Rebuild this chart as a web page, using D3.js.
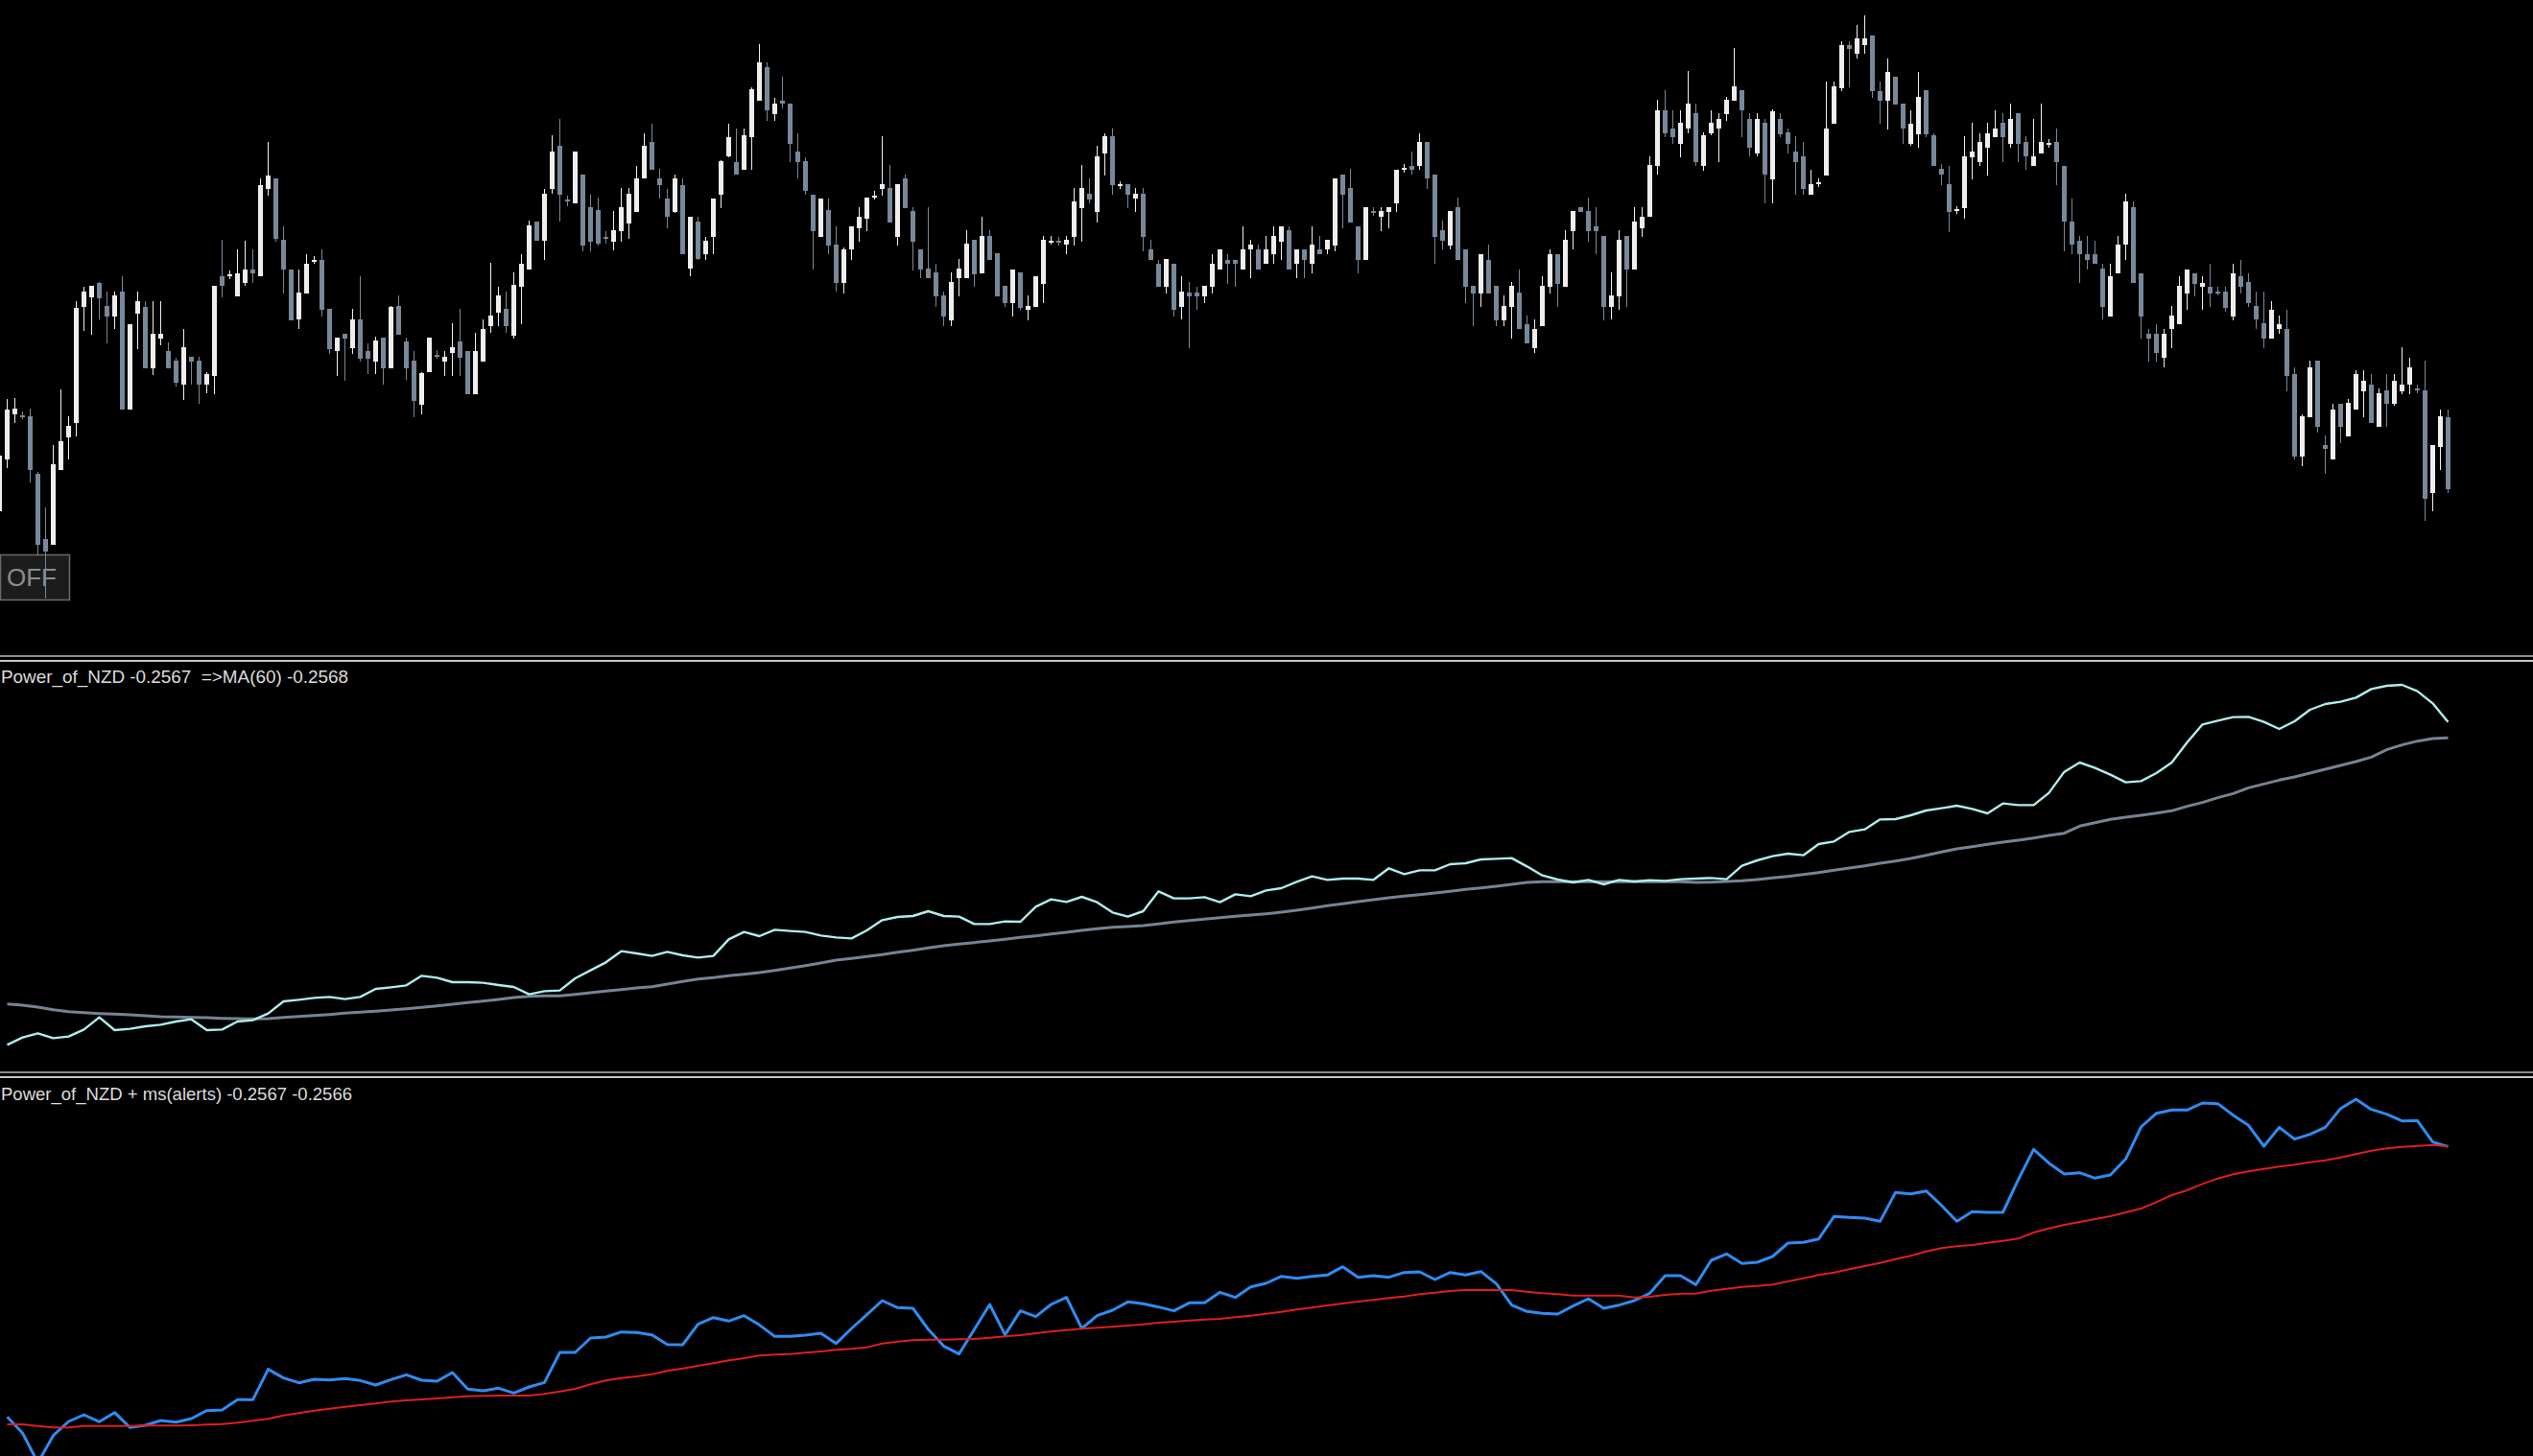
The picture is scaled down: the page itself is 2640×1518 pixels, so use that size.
<!DOCTYPE html>
<html><head><meta charset="utf-8">
<script src="https://cdn.jsdelivr.net/npm/d3@7/dist/d3.min.js"></script>
<style>html,body{margin:0;padding:0;background:#000;overflow:hidden}</style>
</head><body>
<svg id="chart" width="2640" height="1518"></svg>
<script>
// ---------- DATA ----------
// candle prices, in points
const candleOpen = [
770,895,1005,1002,1000,862,703,690,870,948,
982,1262,1285,1320,1265,1240,1298,1015,1245,1262,
1115,1185,1157,1132,1075,1142,1132,1075,1095,1337,
1338,1287,1320,1352,1335,1545,1570,1423,1352,1232,
1295,1372,1375,1258,1155,1197,1162,1232,1155,1130,
1188,1115,1265,1178,1132,1028,1105,1147,1130,1152,
1178,1155,1052,1130,1215,1248,1258,1192,1310,1352,
1468,1422,1545,1650,1520,1512,1580,1502,1495,1430,
1420,1445,1462,1490,1570,1658,1570,1522,1490,1555,
1355,1467,1388,1430,1532,1625,1610,1592,1670,1758,
1838,1725,1758,1750,1635,1612,1532,1430,1495,1412,
1320,1400,1452,1475,1528,1545,1547,1430,1572,1493,
1400,1355,1345,1290,1230,1332,1332,1423,1342,1433,
1392,1312,1272,1345,1255,1262,1317,1420,1422,1412,
1430,1500,1535,1490,1632,1673,1555,1557,1522,1535,
1400,1367,1310,1367,1262,1297,1297,1287,1310,1352,
1375,1375,1352,1400,1400,1367,1390,1420,1447,1367,
1400,1367,1400,1400,1410,1580,1547,1455,1375,1492,
1478,1490,1512,1595,1602,1600,1658,1580,1447,1410,
1502,1400,1312,1295,1375,1312,1230,1262,1297,1220,
1162,1217,1310,1390,1310,1445,1502,1492,1455,1433,
1262,1287,1433,1352,1452,1478,1602,1735,1690,1655,
1690,1728,1600,1680,1690,1725,1757,1783,1713,1630,
1705,1568,1713,1682,1635,1625,1532,1560,1578,1703,
1788,1892,1870,1892,1915,1782,1757,1815,1750,1655,
1678,1783,1675,1595,1557,1495,1500,1622,1610,1645,
1670,1705,1655,1728,1658,1600,1632,1655,1658,1602,
1468,1422,1390,1390,1355,1240,1342,1412,1502,1343,
1197,1197,1140,1210,1220,1295,1342,1310,1310,1300,
1298,1240,1335,1322,1265,1222,1185,1210,1210,1100,
902,997,1132,930,895,1030,950,1015,1060,1075,
975,1062,1030,1060,1075,1065,1062,815,925,997];
const candleHigh = [
910,1040,1042,1010,1017,865,780,930,1063,1000,
1275,1310,1314,1322,1298,1300,1335,1220,1300,1275,
1275,1275,1177,1140,1210,1142,1142,1105,1312,1423,
1350,1400,1422,1400,1570,1658,1570,1455,1352,1352,
1390,1385,1400,1258,1188,1197,1258,1337,1175,1190,
1188,1265,1290,1188,1155,1105,1188,1158,1155,1222,
1258,1155,1200,1232,1368,1310,1300,1345,1390,1470,
1468,1545,1675,1713,1530,1635,1580,1533,1525,1445,
1492,1547,1547,1602,1680,1703,1595,1545,1580,1570,
1478,1478,1430,1522,1615,1702,1690,1690,1790,1893,
1850,1765,1815,1750,1680,1622,1532,1522,1522,1455,
1405,1455,1502,1525,1540,1673,1603,1557,1580,1503,
1400,1503,1367,1300,1345,1378,1447,1423,1480,1447,
1392,1312,1353,1345,1290,1337,1433,1432,1430,1433,
1547,1603,1570,1650,1680,1690,1565,1557,1547,1547,
1423,1375,1377,1367,1335,1322,1310,1312,1390,1400,
1390,1375,1455,1423,1413,1433,1455,1455,1455,1400,
1400,1455,1433,1423,1570,1580,1595,1455,1502,1502,
1502,1502,1592,1605,1635,1680,1658,1580,1470,1492,
1525,1400,1312,1390,1413,1312,1290,1322,1353,1242,
1232,1335,1400,1390,1447,1492,1502,1525,1502,1433,
1345,1447,1433,1502,1502,1625,1760,1783,1735,1735,
1830,1750,1682,1735,1728,1768,1885,1783,1728,1728,
1713,1738,1728,1690,1673,1658,1592,1570,1805,1805,
1900,1900,1940,1962,1915,1805,1860,1815,1750,1735,
1828,1783,1680,1605,1602,1505,1673,1705,1680,1705,
1735,1728,1750,1728,1672,1713,1750,1665,1690,1602,
1523,1433,1433,1422,1367,1365,1433,1535,1515,1343,
1210,1220,1210,1265,1335,1352,1342,1335,1367,1310,
1310,1367,1375,1342,1300,1300,1275,1242,1255,1118,
1005,1132,1132,952,1030,1030,1040,1110,1110,1100,
1065,1100,1100,1165,1140,1075,1132,930,1015,1015];
const candleLow = [
765,875,982,992,840,665,560,690,870,895,
950,1205,1195,1232,1175,1210,1015,1015,1160,1115,
1098,1170,1115,1070,1038,1075,1030,1055,1052,1285,
1330,1287,1313,1320,1335,1530,1420,1295,1230,1210,
1295,1365,1240,1150,1095,1085,1150,1130,1100,1100,
1075,1115,1195,1088,997,1005,1105,1138,1095,1095,
1095,1052,1052,1130,1200,1215,1200,1185,1220,1352,
1422,1375,1535,1467,1505,1512,1397,1397,1410,1415,
1398,1420,1425,1490,1570,1592,1522,1452,1488,1388,
1335,1375,1375,1390,1500,1622,1580,1592,1592,1758,
1710,1710,1740,1610,1570,1532,1352,1430,1390,1300,
1295,1375,1420,1445,1520,1530,1465,1410,1500,1350,
1332,1332,1262,1217,1217,1287,1332,1310,1342,1375,
1287,1262,1240,1255,1230,1262,1272,1412,1410,1388,
1410,1420,1512,1465,1578,1532,1545,1500,1490,1397,
1375,1310,1295,1240,1232,1162,1255,1272,1295,1352,
1317,1310,1352,1332,1352,1367,1365,1375,1352,1332,
1332,1342,1390,1390,1397,1452,1465,1342,1375,1482,
1445,1452,1490,1585,1580,1592,1545,1365,1400,1400,
1375,1272,1217,1262,1295,1217,1217,1185,1210,1175,
1152,1217,1295,1262,1310,1400,1490,1420,1390,1230,
1232,1255,1262,1352,1430,1478,1580,1670,1655,1622,
1680,1600,1590,1675,1610,1710,1757,1670,1625,1625,
1512,1512,1670,1632,1532,1532,1532,1550,1578,1703,
1780,1790,1860,1870,1765,1702,1688,1748,1655,1650,
1645,1670,1602,1555,1443,1485,1475,1568,1600,1578,
1670,1610,1645,1610,1592,1600,1632,1645,1555,1397,
1390,1320,1352,1365,1232,1240,1342,1375,1320,1185,
1130,1130,1118,1162,1220,1255,1287,1255,1262,1290,
1250,1230,1295,1262,1210,1162,1185,1197,1060,895,
880,997,960,860,895,935,950,1015,997,982,
975,975,1025,1052,1052,1055,748,770,870,815];
const candleClose = [
905,1015,1017,1000,870,690,675,885,940,977,
1260,1298,1312,1282,1240,1290,1015,1220,1275,1115,
1197,1197,1115,1080,1165,1130,1075,1100,1312,1312,
1340,1343,1352,1343,1555,1578,1425,1352,1230,1297,
1367,1375,1255,1160,1188,1185,1232,1138,1138,1182,
1115,1262,1195,1115,1035,1102,1188,1145,1142,1165,
1140,1052,1155,1210,1242,1290,1215,1315,1367,1458,
1422,1535,1635,1533,1518,1635,1410,1420,1415,1428,
1447,1502,1535,1570,1650,1592,1555,1478,1570,1390,
1478,1378,1422,1522,1612,1670,1580,1675,1785,1850,
1735,1750,1750,1655,1610,1542,1445,1522,1410,1320,
1400,1455,1480,1525,1530,1557,1465,1557,1500,1420,
1352,1332,1287,1240,1322,1355,1415,1340,1432,1375,
1287,1272,1353,1260,1265,1337,1423,1422,1420,1423,
1515,1547,1520,1625,1673,1555,1557,1532,1535,1430,
1375,1310,1377,1255,1300,1287,1287,1312,1367,1400,
1365,1365,1400,1413,1352,1400,1433,1455,1352,1400,
1375,1413,1390,1423,1570,1532,1465,1375,1502,1490,
1492,1502,1592,1597,1592,1658,1570,1430,1422,1492,
1375,1310,1295,1390,1295,1230,1265,1312,1210,1175,
1210,1312,1390,1317,1423,1492,1490,1445,1445,1262,
1290,1423,1352,1467,1480,1603,1735,1680,1670,1705,
1750,1610,1675,1705,1713,1760,1792,1735,1645,1713,
1580,1732,1678,1655,1610,1545,1557,1562,1690,1792,
1892,1882,1907,1907,1780,1757,1828,1748,1690,1703,
1768,1678,1602,1580,1490,1497,1625,1635,1658,1680,
1690,1670,1713,1655,1625,1625,1658,1657,1610,1467,
1412,1390,1375,1365,1262,1335,1412,1515,1320,1240,
1185,1152,1197,1242,1312,1352,1317,1320,1295,1298,
1260,1342,1310,1272,1232,1185,1255,1220,1095,902,
1000,1118,975,920,1015,975,1032,1100,1085,982,
1055,1030,1085,1075,1118,1062,802,930,1000,825];

// indicator values, one every second bar (bars 1,3,5,...)
const powerNZD = [
142,165,178,163,168,190,228,188,192,200,205,215,222,188,190,215,219,240,278,283,
289,292,285,292,317,322,328,358,352,338,338,336,329,323,300,310,312,350,375,400,
435,428,420,433,422,415,420,472,495,482,502,498,495,484,478,
475,500,532,542,545,560,545,543,520,520,528,527,574,597,589,605,588,556,543,560,
622,600,600,604,588,613,607,625,632,652,669,658,662,662,658,694,676,688,688,707,
710,722,724,726,700,672,659,650,658,644,658,653,657,655,660,
662,664,660,702,719,732,740,735,770,778,808,816,847,848,860,875,882,890,880,866,
897,892,892,930,996,1025,1008,987,963,967,992,1025,1088,1144,1156,1167,1168,1152,1130,1154,
1190,1208,1215,1228,1255,1265,1268,1248,1210,1152];
const powerMA60 = [
270,266,260,252,246,243,240,238,236,233,230,229,228,227,225,224,223,224,228,231,
234,237,241,244,247,251,255,259,264,269,274,279,284,290,294,295,295,300,305,310,
315,320,324,332,340,348,352,358,363,368,375,382,390,398,407,
412,418,424,432,438,445,452,457,462,467,472,478,483,489,494,500,505,510,512,515,
520,526,531,535,540,544,548,552,557,563,570,577,583,590,596,602,607,612,617,622,
628,633,638,644,650,652,652,652,652,652,652,652,652,652,652,
650,651,653,655,659,664,669,675,681,688,695,702,710,717,725,735,745,755,762,769,
776,782,789,797,804,826,837,847,854,860,867,874,888,900,915,928,946,958,970,980,
992,1004,1016,1028,1042,1065,1080,1092,1100,1102];
const alertsMain = [
198,148,55,140,184,205,183,212,165,172,187,182,193,218,220,252,252,347,320,305,
316,314,318,312,298,315,330,313,310,337,285,280,288,273,292,306,400,400,445,448,
464,462,455,425,424,488,509,498,515,486,450,450,454,460,428,
475,518,562,540,538,472,420,395,472,550,455,530,512,550,572,475,515,532,558,552,
542,530,555,555,588,572,605,616,638,632,638,642,668,635,640,635,650,652,628,650,
642,653,615,548,528,522,520,545,568,538,548,562,585,640,640,
612,688,708,678,682,700,742,744,755,825,822,820,810,900,896,905,860,810,840,838,
838,940,1035,992,958,962,945,955,1005,1105,1148,1158,1158,1180,1178,1142,1110,1045,1104,1067,
1082,1104,1163,1192,1160,1145,1124,1125,1058,1044];
const alertsSignal = [
175,175,170,165,165,170,170,170,170,171,171,171,172,174,176,180,186,192,203,210,
218,224,230,235,240,246,250,253,256,260,263,264,265,265,265,270,278,286,300,312,
320,325,332,342,350,358,366,375,382,390,393,395,399,403,408,
411,416,428,434,438,440,440,441,442,446,450,454,460,465,470,474,477,480,484,488,
493,496,500,503,505,510,515,521,527,534,540,547,553,559,564,570,575,582,587,592,
595,595,595,595,590,585,582,578,578,578,578,572,574,580,584,
584,593,599,605,608,612,622,632,642,650,660,670,680,692,702,716,726,732,736,743,
749,756,775,788,799,808,817,826,838,850,870,892,907,927,944,957,966,974,981,987,
995,1001,1010,1020,1031,1038,1043,1046,1049,1044];

const labelPanel2 = "Power_of_NZD -0.2567  =>MA(60) -0.2568";
const labelPanel3 = "Power_of_NZD + ms(alerts) -0.2567 -0.2566";
const buttonText = "OFF";

// ---------- DRAWING ----------
const W = 2640, H = 1518;
const svg = d3.select('#chart');
svg.append('rect').attr('width', W).attr('height', H).attr('fill', '#000');

const nBars = candleOpen.length;
const x = d3.scaleLinear().domain([0, nBars - 1]).range([-1, 2551]);
const yPrice = d3.scaleLinear().domain([432, 2000]).range([680, 0]);
const yPow = d3.scaleLinear().domain([0, 1400]).range([670 + 1400 / 3, 670]);
const yAl = d3.scaleLinear().domain([0, 1300]).range([1110 + 1300 / 3, 1110]);
const lineBars = d3.range(1, nBars, 2);

const defs = svg.append('defs');
[['c1', 0, 0, W, 683], ['c2', 0, 690, W, 427], ['c3', 0, 1125, W, 393]].forEach(c => {
  defs.append('clipPath').attr('id', c[0]).append('rect')
    .attr('x', c[1]).attr('y', c[2]).attr('width', c[3]).attr('height', c[4]);
});

// OFF button
const btn = svg.append('g');
btn.append('rect').attr('x', 0.5).attr('y', 578.5).attr('width', 72).attr('height', 47)
  .attr('fill', '#1c1c1c').attr('stroke', '#6a6a6a').attr('stroke-width', 1.5);
btn.append('text').attr('x', 33).attr('y', 611).attr('text-anchor', 'middle')
  .attr('font-family', 'Liberation Sans, Arial, sans-serif').attr('font-size', 26)
  .attr('fill', '#8c8c8c').text(buttonText);

// candles
const bars = d3.range(nBars).map(i => ({
  i, o: candleOpen[i], h: candleHigh[i], l: candleLow[i], c: candleClose[i]
}));
const bullCol = '#eeeeee', bearCol = '#778899';
const g1 = svg.append('g').attr('clip-path', 'url(#c1)').attr('shape-rendering', 'crispEdges');
g1.selectAll('rect.wick').data(bars).join('rect').attr('class', 'wick')
  .attr('x', d => x(d.i))
  .attr('width', 1)
  .attr('y', d => yPrice(Math.max(d.h, d.o, d.c)))
  .attr('height', d => Math.max(1, yPrice(Math.min(d.l, d.o, d.c)) - yPrice(Math.max(d.h, d.o, d.c))))
  .attr('fill', d => d.c >= d.o ? bullCol : bearCol);
g1.selectAll('rect.body').data(bars).join('rect').attr('class', 'body')
  .attr('x', d => x(d.i) - 2)
  .attr('width', 5)
  .attr('y', d => yPrice(Math.max(d.o, d.c)))
  .attr('height', d => Math.max(2, yPrice(Math.min(d.o, d.c)) - yPrice(Math.max(d.o, d.c))))
  .attr('fill', d => d.c >= d.o ? bullCol : bearCol);

// separators
function separator(y) {
  svg.append('rect').attr('x', 0).attr('y', y).attr('width', W).attr('height', 2).attr('fill', '#8a8a8a');
  svg.append('rect').attr('x', 0).attr('y', y + 5).attr('width', W).attr('height', 2).attr('fill', '#c4c4c4');
}
separator(683);
separator(1117);

// indicator lines
function drawLine(gr, values, yScale, color, width) {
  const line = d3.line().x((d, k) => x(lineBars[k]) + 0.5).y(d => yScale(d));
  gr.append('path').datum(values).attr('d', line)
    .attr('fill', 'none').attr('stroke', color).attr('stroke-width', width)
    .attr('stroke-linejoin', 'round');
}
const g2 = svg.append('g').attr('clip-path', 'url(#c2)');
drawLine(g2, powerMA60, yPow, '#778393', 3);
drawLine(g2, powerNZD, yPow, '#aeeeee', 2.4);
const g3 = svg.append('g').attr('clip-path', 'url(#c3)');
drawLine(g3, alertsMain, yAl, '#2f8cf0', 3);
drawLine(g3, alertsSignal, yAl, '#e01e1e', 2);

// labels
function label(txt, y, len) {
  svg.append('text').attr('x', 1).attr('y', y)
    .attr('font-family', 'Liberation Sans, Arial, sans-serif').attr('font-size', 19)
    .attr('fill', '#dcdcdc').attr('textLength', len).attr('lengthAdjust', 'spacingAndGlyphs')
    .style('white-space', 'pre').text(txt);
}
label(labelPanel2, 712, 362);
label(labelPanel3, 1147, 366);
</script>
</body></html>
